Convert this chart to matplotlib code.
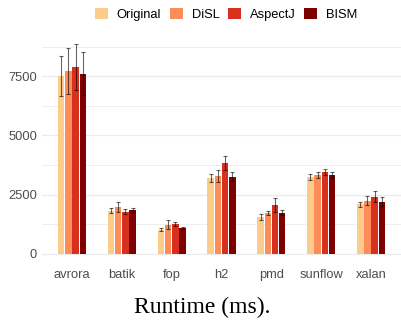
import matplotlib
matplotlib.use("Agg")
import matplotlib.pyplot as plt
import numpy as np

benchmarks = ["avrora", "batik", "fop", "h2", "pmd", "sunflow", "xalan"]
tools = ["Original", "DiSL", "AspectJ", "BISM"]
colors = ["#FDCC8A", "#FC8D59", "#D7301F", "#7F0000"]

original = [7500, 1822, 1017, 3206, 1554, 3234, 2090]
disl = [7733, 1991, 1229, 3291, 1723, 3333, 2246]
aspectj = [7903, 1780, 1257, 3842, 2062, 3460, 2415]
bism = [7606, 1835, 1073, 3263, 1737, 3333, 2203]

original_err = [850, 90, 50, 180, 130, 125, 105]
disl_err = [990, 210, 180, 250, 90, 125, 190]
aspectj_err = [960, 110, 90, 300, 300, 140, 235]
bism_err = [910, 100, 50, 200, 95, 140, 190]

means = [original, disl, aspectj, bism]
errors = [original_err, disl_err, aspectj_err, bism_err]

fig = plt.figure(figsize=(4.01, 3.22), dpi=100)
ax = fig.add_axes([0.105, 0.18, 0.895, 0.714])

x = np.arange(len(benchmarks))
step = 0.145
for i, (name, vals, errs, col) in enumerate(zip(tools, means, errors, colors)):
    pos = x + (i - 1.5) * step
    ax.bar(pos, vals, width=step * 0.9, color=col, label=name, zorder=2)
    ax.errorbar(pos, vals, yerr=errs, fmt="none", ecolor="black", alpha=0.6,
                elinewidth=0.8, capsize=1.6, capthick=0.8, zorder=3)

ax.set_xlim(-0.6, len(benchmarks) - 0.4)
ax.set_ylim(-442, 9290)
ax.set_yticks([0, 2500, 5000, 7500])
ax.set_yticks([1250, 3750, 6250, 8750], minor=True)
ax.set_xticks(x)
ax.set_xticklabels(benchmarks)
ax.grid(axis="y", which="major", color="#EBEBEB", linewidth=0.9, zorder=0)
ax.grid(axis="y", which="minor", color="#EBEBEB", linewidth=0.6, zorder=0)
ax.set_axisbelow(True)
for s in ax.spines.values():
    s.set_visible(False)
ax.tick_params(axis="both", which="both", length=0, labelsize=9.3, labelcolor="#4D4D4D",
               pad=3.5)
for lab in ax.get_xticklabels() + ax.get_yticklabels():
    lab.set_fontfamily("Liberation Sans")

fig.legend(loc="center", bbox_to_anchor=(226 / 401, 0.955), ncol=4, frameon=False,
           handlelength=1.0, handleheight=1.0, handletextpad=0.7, columnspacing=0.65,
           prop={"family": "Liberation Sans", "size": 9.3})

fig.text(0.505, 0.045, "Runtime (ms).", ha="center", va="center",
         fontfamily="Liberation Serif", fontsize=17)

fig.savefig("out.png", dpi=100)
